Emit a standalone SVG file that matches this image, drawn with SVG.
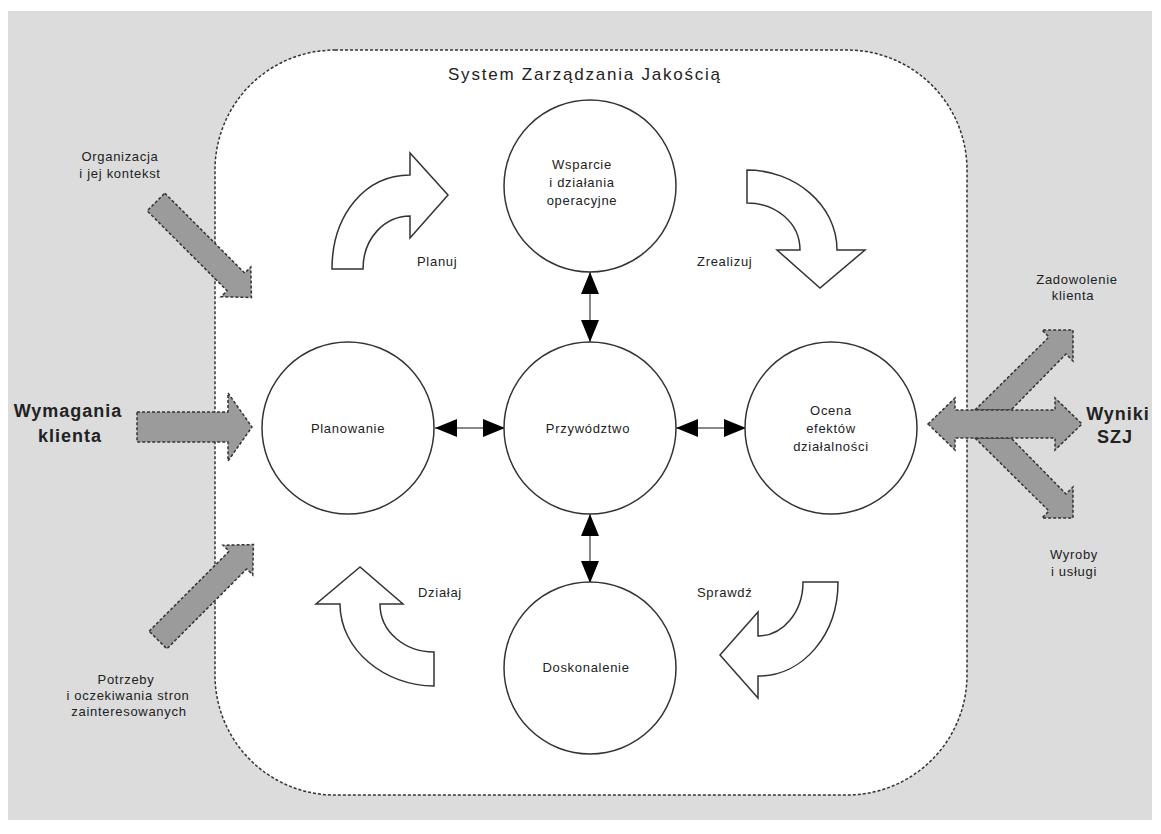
<svg xmlns="http://www.w3.org/2000/svg" width="1161" height="834" viewBox="0 0 1161 834">
<defs>
<style>
text{font-family:"Liberation Sans",Arial,sans-serif;fill:#222;}
.t{font-size:13px;letter-spacing:0.7px;}
.b{font-size:18px;font-weight:bold;letter-spacing:1px;}
.node{fill:#fff;stroke:#333;stroke-width:1.5;}
.curv{fill:#fff;stroke:#333;stroke-width:1.5;stroke-linejoin:miter;}
.grey{fill:#9b9b9b;stroke:#333;stroke-width:1.5;stroke-dasharray:3 2;}
.link{stroke:#888;stroke-width:2;fill:none;}
</style>
<marker id="ah" viewBox="0 0 22 18" refX="22" refY="9" markerWidth="22" markerHeight="18" markerUnits="userSpaceOnUse" orient="auto-start-reverse">
<path d="M0,0 L22,9 L0,18 Z" fill="#000"/>
</marker>
</defs>
<rect x="8" y="11" width="1144" height="809" fill="#dcdcdc"/>
<rect id="szj" x="215" y="50" width="752" height="745" rx="120" ry="120" fill="#fff" stroke="#333" stroke-width="1.5" stroke-dasharray="3 2"/>
<text x="584" y="80" text-anchor="middle" style="font-size:17px" textLength="272" lengthAdjust="spacing">System Zarządzania Jakością</text>

<g id="inputs">
<path class="grey" transform="translate(156,202) rotate(45)" d="M0,-12.5 L113,-12.5 L113,-21 L135,0 L113,21 L113,12.5 L0,12.5 Z"/>
<path class="grey" transform="translate(158,640) rotate(-45)" d="M0,-12.5 L113,-12.5 L113,-21 L135,0 L113,21 L113,12.5 L0,12.5 Z"/>
<path class="grey" d="M137,412 L228,412 L228,393 L252,427 L228,461 L228,442 L137,442 Z"/>
</g>
<g id="outputs">
<path class="grey" d="M975,410 L1049,337 L1042,330 L1073,330 L1073,361 L1066,354 L1011,410 Z"/>
<path class="grey" d="M975,438 L1049,511 L1042,518 L1073,518 L1073,487 L1066,494 L1011,438 Z"/>
<path class="grey" d="M928,424 L955,398 L955,410 L1055,410 L1055,398 L1082,424 L1055,450 L1055,438 L955,438 L955,450 Z"/>
</g>

<g id="cycle">
<path class="curv" d="M332,269 C332,215 365,175 410,175 L410,153 L448,195 L410,238 L410,216 C385,216 363,238 363,269 Z"/>
<path class="curv" d="M747,170 C795,170 837,205 837,250 L865,250 L820,288 L777,250 L800,250 C800,222 775,203 747,203 Z"/>
<path class="curv" d="M360,567 L316,604 L340,604 C340,650 385,686 434,686 L434,652 C405,652 380,632 380,604 L403,604 Z"/>
<path class="curv" d="M803,582 L838,582 C838,635 803,676 758,676 L758,698 L720,655 L758,612 L758,636 C783,636 803,612 803,582 Z"/>
</g>

<g id="connectors">
<line class="link" x1="435" y1="428" x2="505" y2="428" marker-start="url(#ah)" marker-end="url(#ah)"/>
<line class="link" x1="676" y1="428" x2="746" y2="428" marker-start="url(#ah)" marker-end="url(#ah)"/>
<line class="link" x1="590" y1="272" x2="590" y2="342" marker-start="url(#ah)" marker-end="url(#ah)"/>
<line class="link" x1="590" y1="514" x2="590" y2="583" marker-start="url(#ah)" marker-end="url(#ah)"/>
</g>

<g id="wsparcie"><circle class="node" cx="590" cy="186" r="86"/>
<text class="t" x="582" y="169" text-anchor="middle">Wsparcie</text>
<text class="t" x="582" y="187" text-anchor="middle">i działania</text>
<text class="t" x="582" y="205" text-anchor="middle">operacyjne</text></g>
<g id="planowanie"><circle class="node" cx="348" cy="428" r="86"/>
<text class="t" x="348" y="433" text-anchor="middle">Planowanie</text></g>
<g id="przywodztwo"><circle class="node" cx="590" cy="428" r="86"/>
<text class="t" x="588" y="433" text-anchor="middle">Przywództwo</text></g>
<g id="ocena"><circle class="node" cx="831" cy="428" r="86"/>
<text class="t" x="831" y="415" text-anchor="middle">Ocena</text>
<text class="t" x="831" y="433" text-anchor="middle">efektów</text>
<text class="t" x="831" y="451" text-anchor="middle">działalności</text></g>
<g id="doskonalenie"><circle class="node" cx="590" cy="668" r="86"/>
<text class="t" x="586" y="672" text-anchor="middle">Doskonalenie</text></g>

<g id="labels">
<text class="t" x="417" y="266">Planuj</text>
<text class="t" x="697" y="266">Zrealizuj</text>
<text class="t" x="418" y="597">Działaj</text>
<text class="t" x="697" y="597">Sprawdź</text>
<text class="t" x="120" y="161" text-anchor="middle">Organizacja</text>
<text class="t" x="120" y="178" text-anchor="middle">i jej kontekst</text>
<text class="b" x="68" y="417" text-anchor="middle">Wymagania</text>
<text class="b" x="70" y="442" text-anchor="middle">klienta</text>
<text class="t" x="126" y="684" text-anchor="middle">Potrzeby</text>
<text class="t" x="128" y="700" text-anchor="middle">i oczekiwania stron</text>
<text class="t" x="129" y="716" text-anchor="middle">zainteresowanych</text>
<text class="t" x="1077" y="284" text-anchor="middle">Zadowolenie</text>
<text class="t" x="1073" y="300" text-anchor="middle">klienta</text>
<text class="b" x="1118" y="420" text-anchor="middle">Wyniki</text>
<text class="b" x="1115" y="443" text-anchor="middle">SZJ</text>
<text class="t" x="1074" y="559" text-anchor="middle">Wyroby</text>
<text class="t" x="1074" y="576" text-anchor="middle">i usługi</text>
</g>
</svg>
